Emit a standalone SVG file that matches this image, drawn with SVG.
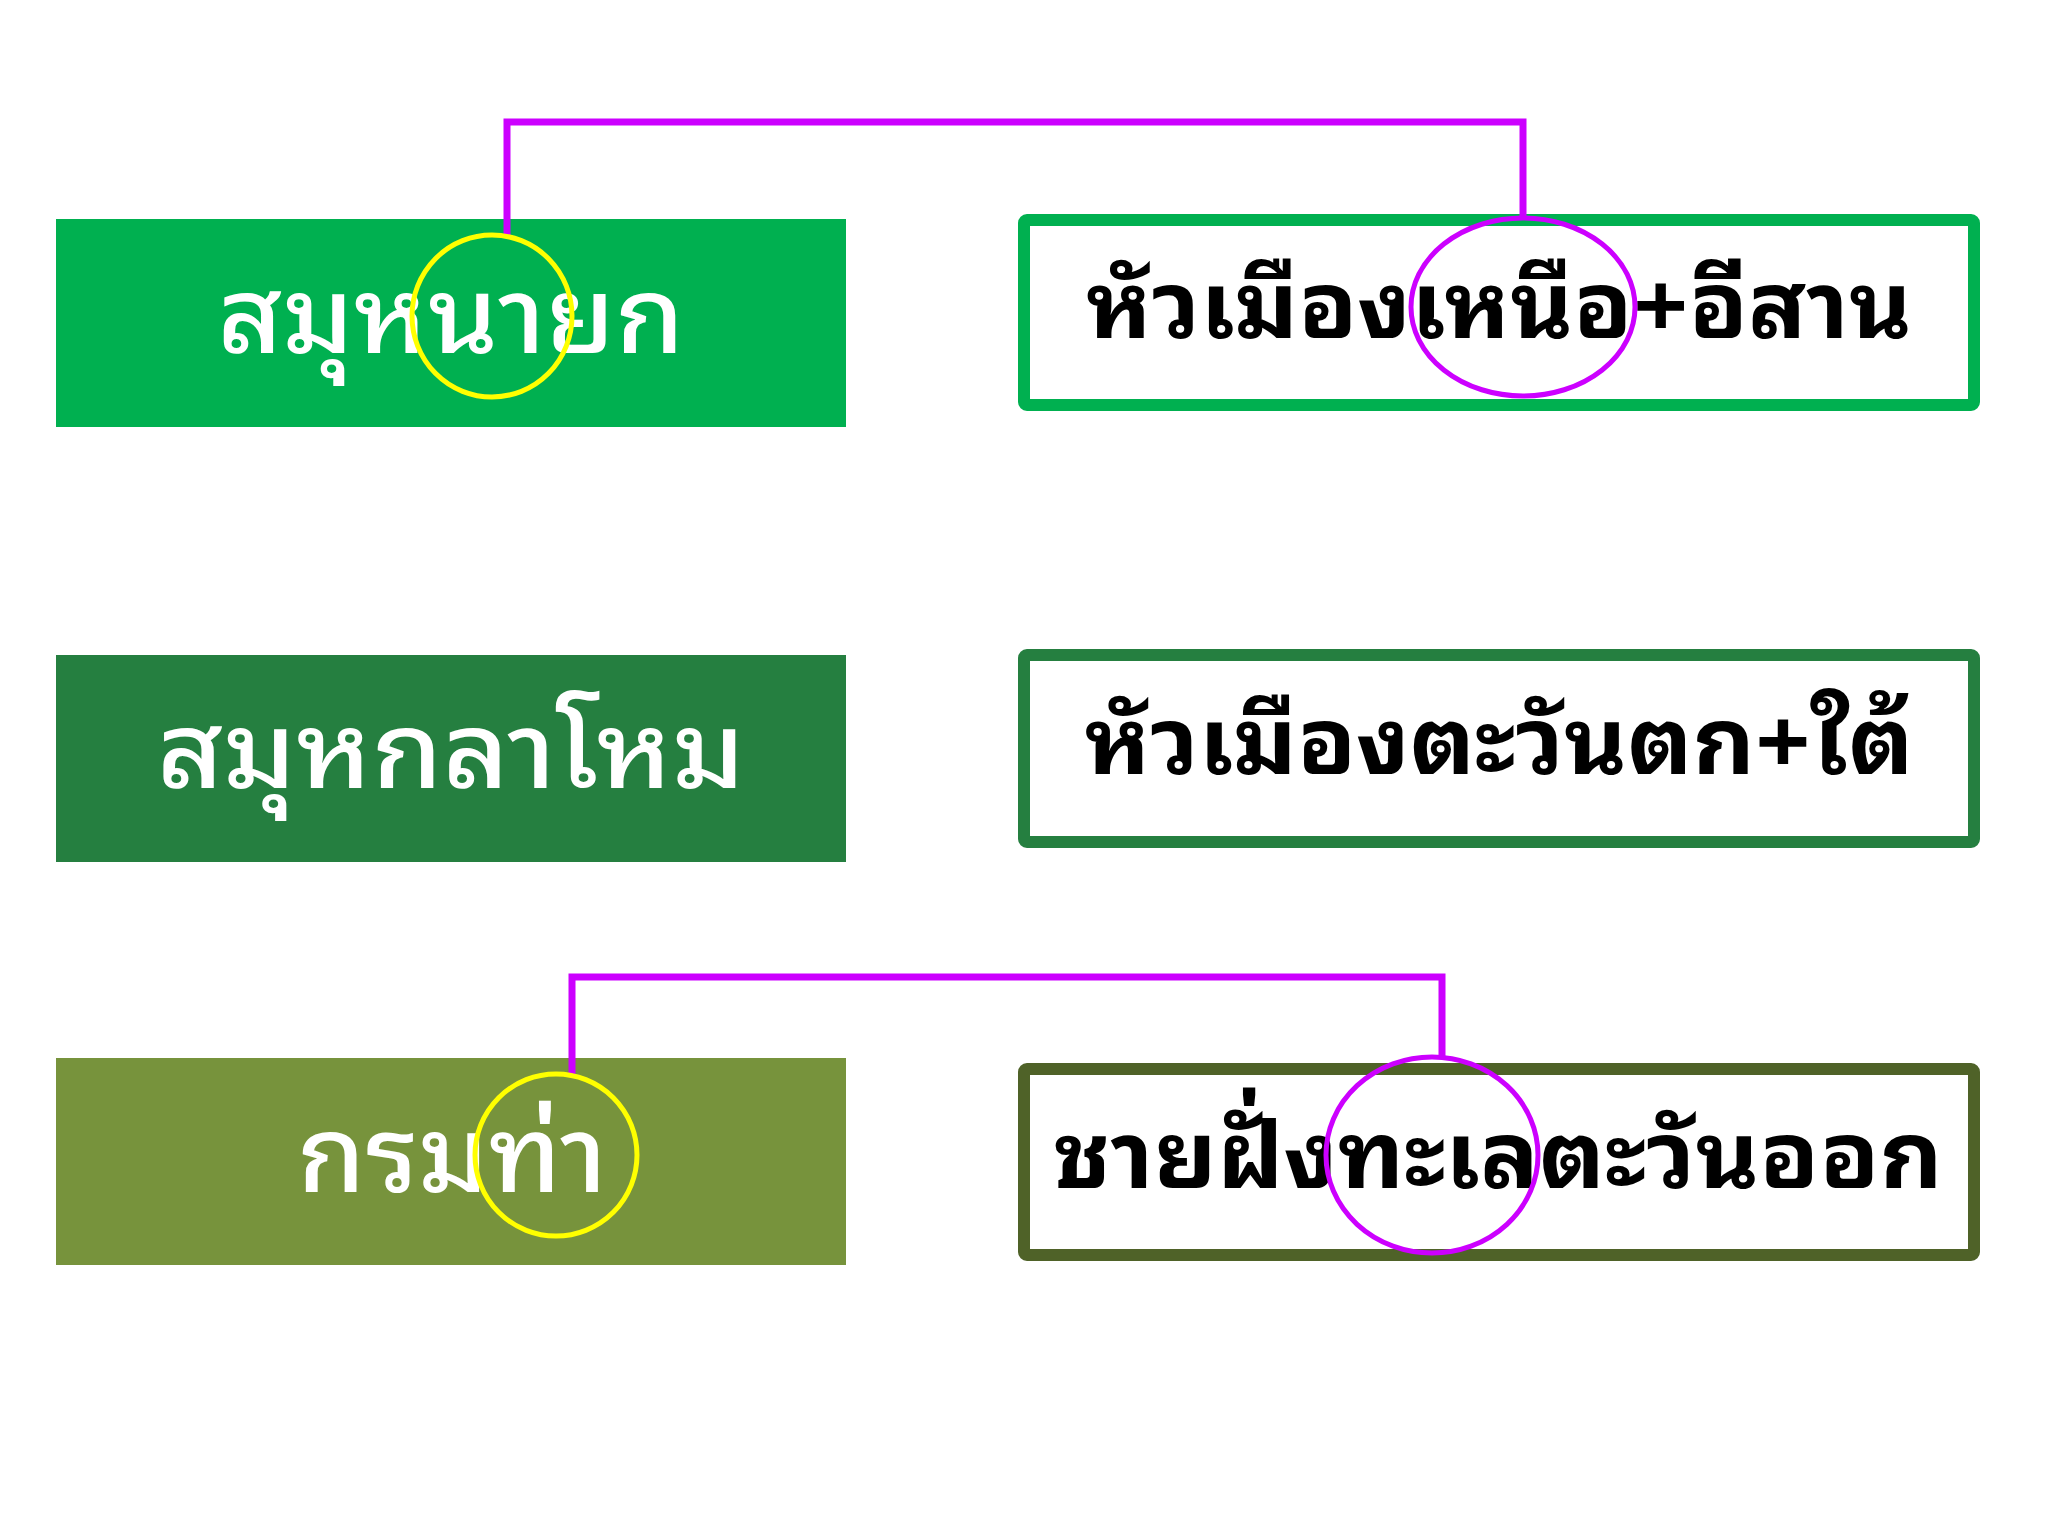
<svg xmlns="http://www.w3.org/2000/svg" width="2048" height="1536" viewBox="0 0 2048 1536">
<style>
.lt{font-family:"Noto Sans Thai Looped","Noto Sans Thai","Noto Sans","DejaVu Sans",sans-serif;font-size:106px;font-weight:500;fill:#FFFFFF;text-anchor:middle}
.rt{font-family:"Noto Sans Thai Looped","Noto Sans Thai","Noto Sans","DejaVu Sans",sans-serif;font-size:92px;font-weight:bold;fill:#000000;text-anchor:middle}
.rb{fill:#FFFFFF;stroke-width:12}
.con{fill:none;stroke:#CC00FF;stroke-width:7}
.yc{fill:none;stroke:#FFFF00;stroke-width:5}
.pc{fill:none;stroke:#CC00FF;stroke-width:5}
</style>
<rect width="2048" height="1536" fill="#FFFFFF"/>
<g id="node-samuhanayok">
<rect x="56" y="219" width="790" height="208" fill="#00B050"/>
<text class="lt" x="451" y="353" textLength="467" lengthAdjust="spacingAndGlyphs">สมุหนายก</text>
</g>
<g id="node-north">
<rect class="rb" x="1024" y="220" width="950" height="185" rx="3" stroke="#00B050"/>
<text class="rt" x="1499" y="338" textLength="826" lengthAdjust="spacingAndGlyphs">หัวเมืองเหนือ+อีสาน</text>
</g>
<g id="node-samuhakalahom">
<rect x="56" y="655" width="790" height="207" fill="#257F40"/>
<text class="lt" x="451" y="788" textLength="588" lengthAdjust="spacingAndGlyphs">สมุหกลาโหม</text>
</g>
<g id="node-westsouth">
<rect class="rb" x="1024" y="655" width="950" height="187" rx="3" stroke="#257F40"/>
<text class="rt" x="1499" y="774" textLength="829" lengthAdjust="spacingAndGlyphs">หัวเมืองตะวันตก+ใต้</text>
</g>
<g id="node-kromtha">
<rect x="56" y="1058" width="790" height="207" fill="#77933C"/>
<text class="lt" x="452" y="1192" textLength="310" lengthAdjust="spacingAndGlyphs">กรมท่า</text>
</g>
<g id="node-east">
<rect class="rb" x="1024" y="1069" width="950" height="186" rx="3" stroke="#4F6228"/>
<text class="rt" x="1498" y="1188" textLength="890" lengthAdjust="spacingAndGlyphs">ชายฝั่งทะเลตะวันออก</text>
</g>
<g id="connectors">
<polyline class="con" points="507,235 507,122 1523,122 1523,217"/>
<polyline class="con" points="572,1074 572,977 1442,977 1442,1057"/>
<ellipse class="yc" cx="492" cy="316" rx="80" ry="81"/>
<ellipse class="pc" cx="1523" cy="307" rx="112" ry="89"/>
<ellipse class="yc" cx="556" cy="1155" rx="81" ry="81"/>
<ellipse class="pc" cx="1432" cy="1155" rx="106" ry="98"/>
</g>
</svg>
